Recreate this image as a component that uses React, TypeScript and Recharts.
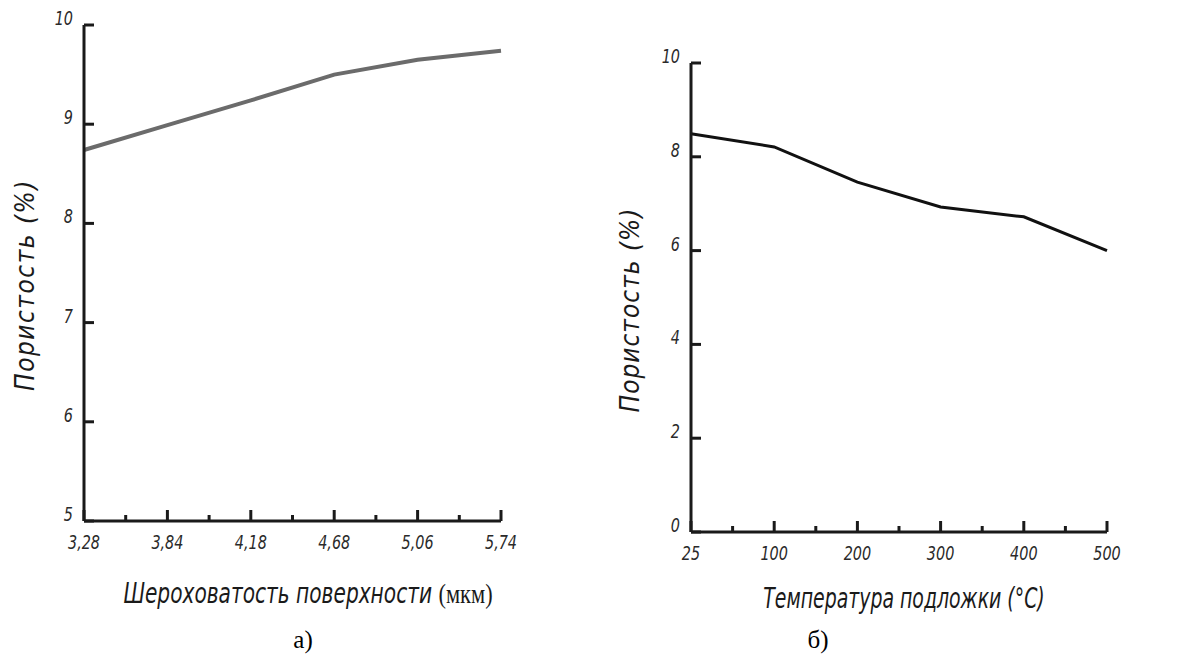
import React from 'react'
import { LineChart, Line, XAxis, YAxis } from 'recharts'

// а) roughness vs porosity
const roughnessLabels = ['3,28', '3,84', '4,18', '4,68', '5,06', '5,74']
const porosityByRoughness = [8.74, 8.99, 9.24, 9.5, 9.65, 9.74]
const roughnessYTicks = [5, 6, 7, 8, 9, 10]

// б) substrate temperature vs porosity
const temperatureLabels = ['25', '100', '200', '300', '400', '500']
const porosityByTemperature = [8.49, 8.21, 7.46, 6.93, 6.72, 6.0]
const temperatureYTicks = [0, 2, 4, 6, 8, 10]

const xTicks = [0, 0.5, 1, 1.5, 2, 2.5, 3, 3.5, 4, 4.5, 5]

const drawFont = "'DejaVu Sans Condensed', 'Liberation Sans Narrow', 'DejaVu Sans', sans-serif"
const ink = '#1a1a1a'

const roughnessData = roughnessLabels.map((label, i) => ({ i, label, value: porosityByRoughness[i] }))
const temperatureData = temperatureLabels.map((label, i) => ({ i, label, value: porosityByTemperature[i] }))

function makeXTick(labels: string[]) {
  return (props: any) => {
    const { x, y, payload } = props
    const v = payload.value as number
    const major = Number.isInteger(v)
    return (
      <g>
        <line x1={x} y1={y} x2={x} y2={y - (major ? 11 : 6)} stroke={ink} strokeWidth={3} />
        {major && (
          <text
            transform={`translate(${x},${y + 28}) scale(0.8,1)`}
            textAnchor="middle"
            fontFamily={drawFont}
            fontStyle="italic"
            fontSize={20}
            fill="#2a2a2a"
          >
            {labels[v]}
          </text>
        )}
      </g>
    )
  }
}

function YTick(props: any) {
  const { x, y, payload } = props
  return (
    <g>
      <line x1={x} y1={y} x2={x + 10} y2={y} stroke={ink} strokeWidth={3} />
      <text
        transform={`translate(${x - 11},${y}) scale(0.8,1)`}
        textAnchor="end"
        fontFamily={drawFont}
        fontStyle="italic"
        fontSize={20}
        fill="#2a2a2a"
      >
        {payload.value}
      </text>
    </g>
  )
}

const labelStyle: React.CSSProperties = {
  position: 'absolute',
  fontFamily: drawFont,
  fontStyle: 'italic',
  color: ink,
  whiteSpace: 'nowrap',
}

const captionStyle: React.CSSProperties = {
  position: 'absolute',
  fontFamily: "'Liberation Serif', 'Times New Roman', serif",
  fontSize: 25,
  color: '#000',
  transform: 'translateX(-50%)',
}

export default function App() {
  return (
    <div style={{ position: 'absolute', left: 0, top: 0, width: 1201, height: 662, background: '#fff' }}>
      <div style={{ position: 'absolute', left: 0, top: 0 }}>
        <LineChart width={600} height={662} data={roughnessData} margin={{ top: 25, right: 99, bottom: 140, left: 83 }}>
          <XAxis
            dataKey="i"
            type="number"
            domain={[0, 5]}
            ticks={xTicks}
            interval={0}
            height={1}
            tickSize={0}
            tickMargin={0}
            tickLine={false}
            axisLine={{ stroke: ink, strokeWidth: 3 }}
            tick={makeXTick(roughnessLabels)}
          />
          <YAxis
            type="number"
            domain={[5, 10]}
            ticks={roughnessYTicks}
            interval={0}
            width={1}
            tickSize={0}
            tickMargin={0}
            tickLine={false}
            axisLine={{ stroke: ink, strokeWidth: 3 }}
            tick={YTick}
          />
          <Line type="linear" dataKey="value" stroke="#6b6b6b" strokeWidth={4} dot={false} isAnimationActive={false} />
        </LineChart>
      </div>

      <div style={{ position: 'absolute', left: 600, top: 0 }}>
        <LineChart width={601} height={662} data={temperatureData} margin={{ top: 63, right: 94, bottom: 129, left: 90 }}>
          <XAxis
            dataKey="i"
            type="number"
            domain={[0, 5]}
            ticks={xTicks}
            interval={0}
            height={1}
            tickSize={0}
            tickMargin={0}
            tickLine={false}
            axisLine={{ stroke: ink, strokeWidth: 3 }}
            tick={makeXTick(temperatureLabels)}
          />
          <YAxis
            type="number"
            domain={[0, 10]}
            ticks={temperatureYTicks}
            interval={0}
            width={1}
            tickSize={0}
            tickMargin={0}
            tickLine={false}
            axisLine={{ stroke: ink, strokeWidth: 3 }}
            tick={YTick}
          />
          <Line type="linear" dataKey="value" stroke="#111" strokeWidth={3} dot={false} isAnimationActive={false} />
        </LineChart>
      </div>

      {/* axis titles */}
      <div style={{ ...labelStyle, fontSize: 26, letterSpacing: 1.5, left: 25, top: 285, transform: 'translate(-50%, -50%) rotate(-90deg)' }}>
        Пористость (%)
      </div>
      <div style={{ ...labelStyle, fontSize: 28, left: 308, top: 593, transform: 'translate(-50%, -50%) scaleX(0.8)' }}>
        Шероховатость поверхности{' '}
        <span style={{ fontFamily: "'Liberation Serif', serif", fontStyle: 'normal' }}>(мкм)</span>
      </div>
      <div style={{ ...labelStyle, fontSize: 26, letterSpacing: 1, left: 630, top: 310, transform: 'translate(-50%, -50%) rotate(-90deg)' }}>
        Пористость (%)
      </div>
      <div style={{ ...labelStyle, fontSize: 28, left: 904, top: 598, transform: 'translate(-50%, -50%) scaleX(0.75)' }}>
        Температура подложки (°С)
      </div>

      <div style={{ ...captionStyle, left: 303, top: 626 }}>а)</div>
      <div style={{ ...captionStyle, left: 818, top: 626 }}>б)</div>
    </div>
  )
}
